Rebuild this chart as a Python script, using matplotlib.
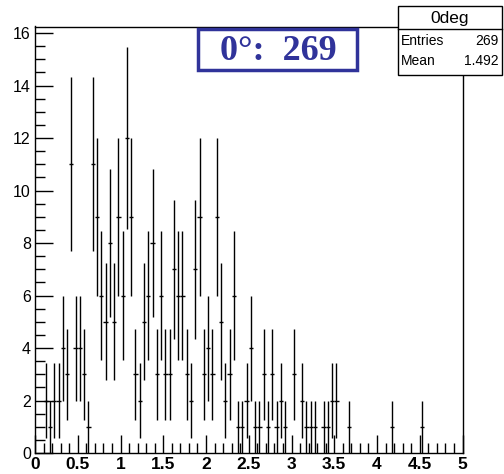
import numpy as np
import matplotlib
matplotlib.use("Agg")
import matplotlib.pyplot as plt
from matplotlib.patches import Rectangle
from matplotlib.ticker import MultipleLocator

# histogram "0deg": 100 bins from 0 to 5
bin_lo = 0.0
bin_hi = 5.0
counts = [
    0, 0, 2, 1, 2, 2, 4, 3, 11, 4,
    4, 3, 1, 11, 9, 6, 5, 8, 5, 9,
    6, 12, 9, 3, 2, 5, 6, 8, 3, 6,
    3, 3, 7, 6, 6, 3, 2, 7, 9, 3,
    4, 3, 9, 5, 2, 3, 6, 1, 1, 2,
    4, 1, 1, 3, 1, 3, 1, 2, 1, 0,
    3, 0, 2, 1, 1, 1, 0, 1, 1, 2,
    2, 0, 0, 1, 0, 0, 0, 0, 0, 0,
    0, 0, 0, 1, 0, 0, 0, 0, 0, 0,
    1, 0, 0, 0, 0, 0, 0, 0, 0, 0,
]
hist_name = "0deg"
label_text = "0\u00b0:  269"

counts = np.array(counts, dtype=float)
nbins = len(counts)
width = (bin_hi - bin_lo) / nbins
centers = bin_lo + width * (np.arange(nbins) + 0.5)
entries = int(counts.sum())
mean = (centers * counts).sum() / counts.sum()

W, H = 504, 474
fig = plt.figure(figsize=(W / 100, H / 100), dpi=100)
fig.patch.set_facecolor("white")

def fx(px):
    return px / W

def fy(py):
    return 1 - py / H

ax = fig.add_axes([fx(35), fy(453), fx(462.5) - fx(35), fy(26.5) - fy(453)])

nz = counts > 0
ax.errorbar(centers[nz], counts[nz], xerr=width / 2, yerr=np.sqrt(counts[nz]),
            fmt="none", ecolor="black", elinewidth=1, capsize=0)

ax.set_xlim(bin_lo, bin_hi)
ax.set_ylim(0, 16.25)
ax.xaxis.set_major_locator(MultipleLocator(0.5))
ax.xaxis.set_minor_locator(MultipleLocator(0.1))
ax.yaxis.set_major_locator(MultipleLocator(2))
ax.yaxis.set_minor_locator(MultipleLocator(0.5))
ax.xaxis.set_major_formatter(plt.FuncFormatter(lambda v, p: f"{v:g}"))
ax.tick_params(which="major", direction="in", length=13, width=1, top=False, right=False)
ax.tick_params(which="minor", direction="in", length=7, width=1, top=False, right=False)
ax.tick_params(axis="x", pad=3, labelsize=12.5)
ax.tick_params(axis="y", pad=3, labelsize=11.5)
for lab in ax.get_xticklabels():
    lab.set_fontweight("bold")
for lab in ax.get_xticklabels() + ax.get_yticklabels():
    lab.set_fontfamily("Liberation Sans")
for s in ax.spines.values():
    s.set_linewidth(1)

# stats box
sx0, sx1, sy0, sy1, sep = 398, 502, 6, 75, 29
fig.add_artist(Rectangle((fx(sx0), fy(sy1)), fx(sx1) - fx(sx0), fy(sy0) - fy(sy1),
                         transform=fig.transFigure, facecolor="white",
                         edgecolor="black", lw=1, zorder=5))
fig.add_artist(plt.Line2D([fx(sx0), fx(sx1)], [fy(sep), fy(sep)],
                          transform=fig.transFigure, color="black", lw=1, zorder=6))
fig.text(fx((sx0 + sx1) / 2), fy(18), hist_name, ha="center", va="center",
         fontsize=12.5, family="Liberation Sans", zorder=7)
fig.text(fx(sx0 + 3), fy(41), "Entries", ha="left", va="center",
         fontsize=10, family="Liberation Sans", zorder=7)
fig.text(fx(sx1 - 3), fy(41), f"{entries}", ha="right", va="center",
         fontsize=10, family="Liberation Sans", zorder=7)
fig.text(fx(sx0 + 3), fy(61), "Mean", ha="left", va="center",
         fontsize=10, family="Liberation Sans", zorder=7)
fig.text(fx(sx1 - 3), fy(61), f"{mean:.3f}", ha="right", va="center",
         fontsize=10, family="Liberation Sans", zorder=7)

# blue label box
bx0, bx1, by0, by1 = 198, 357, 29, 70
blue = "#30339a"
fig.add_artist(Rectangle((fx(bx0), fy(by1)), fx(bx1) - fx(bx0), fy(by0) - fy(by1),
                         transform=fig.transFigure, facecolor="white",
                         edgecolor=blue, lw=2.5, zorder=5))
fig.text(fx((bx0 + bx1) / 2 + 1), fy(51), label_text, ha="center", va="center",
         fontsize=26, fontweight="bold", family="Liberation Serif", color=blue, zorder=7)

fig.savefig("out.png", dpi=100)
